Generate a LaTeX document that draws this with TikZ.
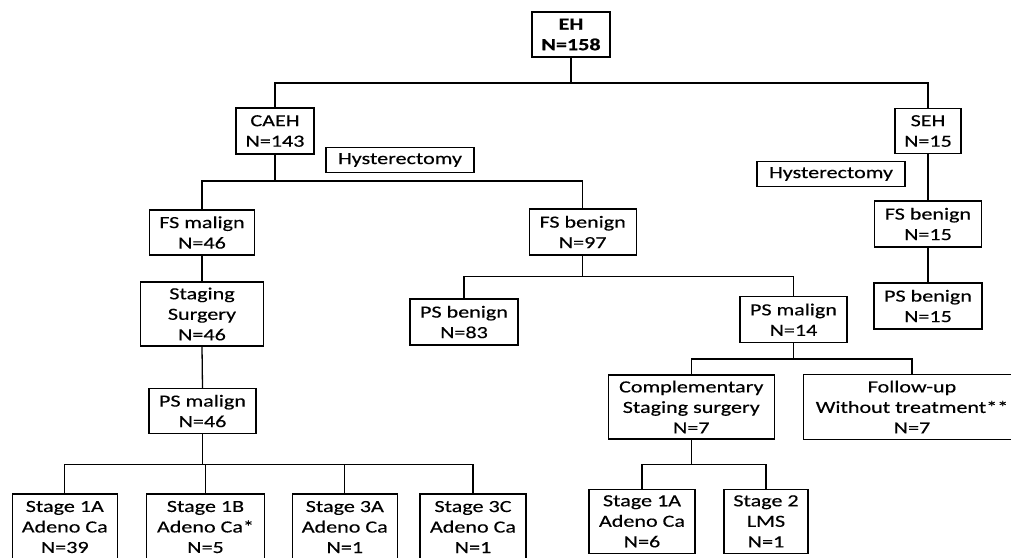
\documentclass[tikz,border=0pt]{standalone}
\usepackage{fontspec}
\setmainfont{Carlito}[FakeStretch=1.3, UprightFeatures={FakeBold=0.3}]
\newfontfamily\ehfont{Carlito}[FakeStretch=1.3, BoldFeatures={FakeBold=0.8}]
\begin{document}
\begin{tikzpicture}[x=1pt,y=-1pt,
  box/.style={draw, line width=1.2pt, align=center, inner sep=0pt, font=\fontsize{17}{20.5}\selectfont},
  conn/.style={line width=1.3pt}]
\useasboundingbox (0,0) rectangle (1011,557);
\fill[white] (0,0) rectangle (1011,557);
\clip (0,0) rectangle (1011,557);
% nodes
\node[box, minimum width=78pt, minimum height=45pt, font=\fontsize{17}{20.5}\selectfont\ehfont\bfseries] (EH) at (571,34.5) {EH\\N=158};
\node[box, minimum width=78pt, minimum height=46pt] (CAEH) at (275,131) {CAEH\\N=143};
\node[box, minimum width=66pt, minimum height=45pt] (SEH) at (928,131) {SEH\\N=15};
\node[box, minimum width=148pt, minimum height=25pt] (H1) at (400,160) {Hysterectomy};
\node[box, minimum width=148pt, minimum height=25pt] (H2) at (831,174) {Hysterectomy};
\node[box, minimum width=105pt, minimum height=45pt] (FSm) at (202,232.5) {FS malign\\N=46};
\node[box, minimum width=107pt, minimum height=46pt] (FSb) at (582.7,232) {FS benign\\N=97};
\node[box, minimum width=107pt, minimum height=46pt] (FSb2) at (928,224) {FS benign\\N=15};
\node[box, minimum width=108pt, minimum height=46pt] (PSb2) at (928,306) {PS benign\\N=15};
\node[box, minimum width=123pt, minimum height=64pt] (Stg) at (202,314) {Staging\\Surgery\\N=46};
\node[box, minimum width=108pt, minimum height=46pt] (PSb) at (464,322) {PS benign\\N=83};
\node[box, minimum width=107pt, minimum height=46pt] (PSm) at (793.5,319.7) {PS malign\\N=14};
\node[box, minimum width=107pt, minimum height=45pt] (PSm46) at (202.5,411) {PS malign\\N=46};
\node[box, minimum width=166pt, minimum height=64pt] (Comp) at (691.3,407) {Complementary\\Staging surgery\\N=7};
\node[box, draw=none, minimum width=216pt, minimum height=64pt] (Foll) at (912,407) {Follow-up\\Without treatment**\\N=7};
\draw[line width=1.2pt] (Foll.north west) ++(260,0) -- (Foll.north west) -- (Foll.south west) -- ++(260,0);
\node[box, minimum width=105pt, minimum height=66pt] (S1A) at (64.8,527) {Stage 1A\\Adeno Ca\\N=39};
\node[box, minimum width=118pt, minimum height=66pt] (S1B) at (205.5,527) {Stage 1B\\Adeno Ca*\\N=5};
\node[box, minimum width=105pt, minimum height=66pt] (S3A) at (344.8,527) {Stage 3A\\Adeno Ca\\N=1};
\node[box, minimum width=106pt, minimum height=66pt] (S3C) at (473,527) {Stage 3C\\Adeno Ca\\N=1};
\node[box, minimum width=106pt, minimum height=64pt] (S1Ar) at (642,521.3) {Stage 1A\\Adeno Ca\\N=6};
\node[box, minimum width=84pt, minimum height=64pt] (S2) at (766,521.3) {Stage 2\\LMS\\N=1};
% bar coordinates
\coordinate (bEH) at (571,83);
\coordinate (bCA) at (275,181);
\coordinate (bFSb) at (582.7,276.7);
\coordinate (bPSm) at (793.5,359);
\coordinate (bPS46) at (202.5,464.3);
\coordinate (bComp) at (691.3,464.3);
% connectors
\draw[conn] (EH.south) -- (bEH);
\draw[conn] (CAEH.north) |- (bEH) -| (SEH.north);
\draw[conn] (CAEH.south) -- (bCA);
\draw[conn] (FSm.north) |- (bCA) -| (FSb.north);
\draw[conn] (SEH.south) -- (FSb2.north);
\draw[conn] (FSb2.south) -- (PSb2.north);
\draw[conn] (FSm.south) -- (Stg.north);
\draw[conn] (Stg.south) -- (PSm46.north);
\draw[conn] (FSb.south) -- (bFSb);
\draw[conn] (PSb.north) |- (bFSb) -| (PSm.north);
\draw[conn] (PSm.south) -- (bPSm);
\draw[conn] (Comp.north) |- (bPSm) -| (Foll.north);
\draw[conn] (PSm46.south) -- (bPS46);
\draw[conn] (S1A.north) |- (bPS46) -| (S3C.north);
\draw[conn] (S1B.north) -- (S1B.north |- bPS46);
\draw[conn] (S3A.north) -- (S3A.north |- bPS46);
\draw[conn] (Comp.south) -- (bComp);
\draw[conn] (S1Ar.north) |- (bComp) -| (S2.north);
\end{tikzpicture}
\end{document}
